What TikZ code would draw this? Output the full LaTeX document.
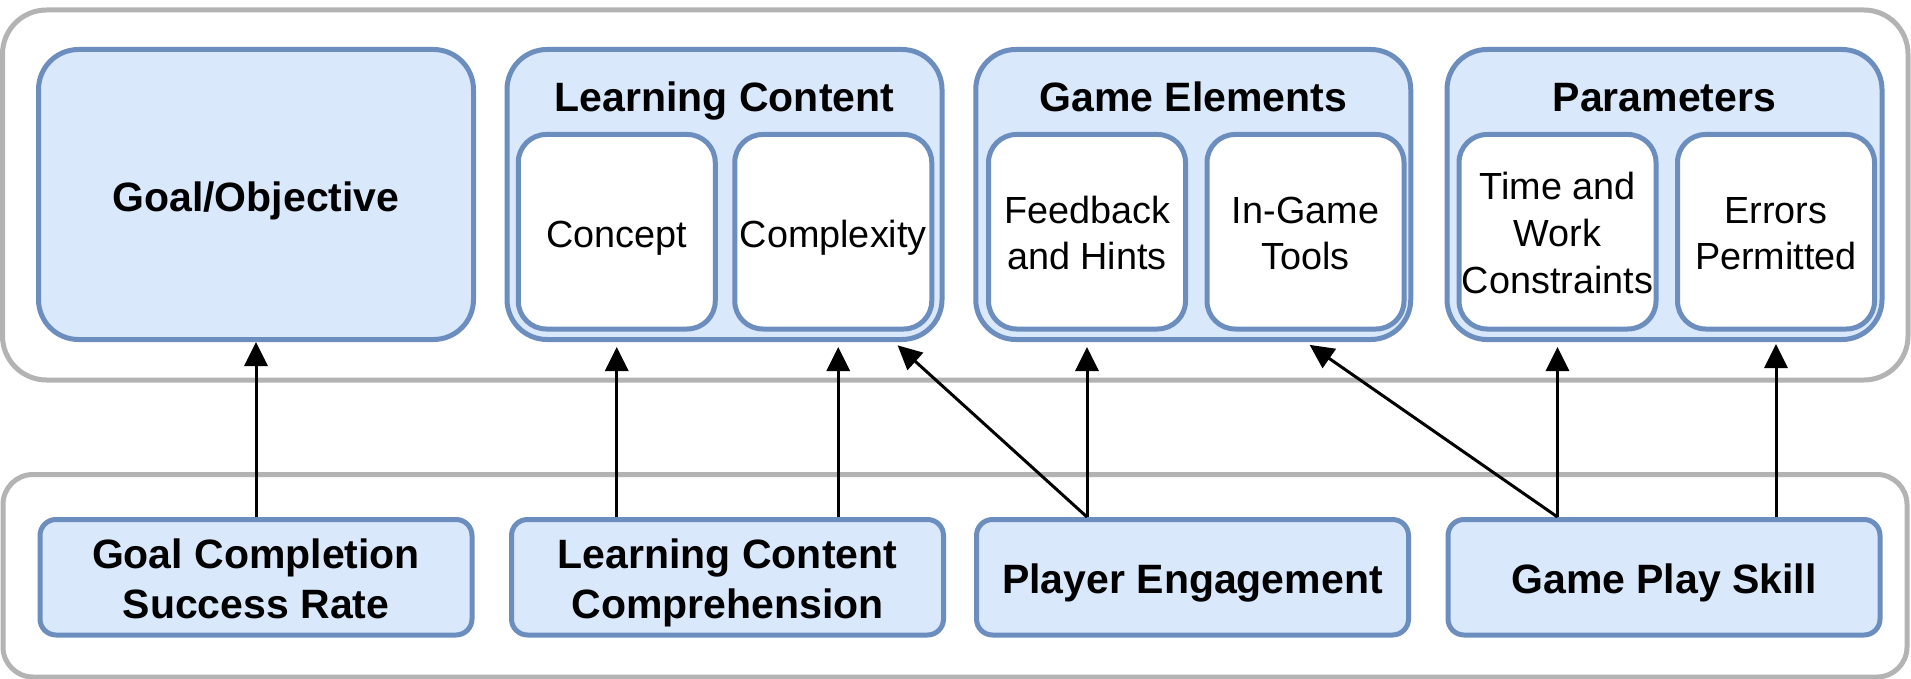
\documentclass[tikz,border=0pt]{standalone}
\usepackage{fontspec}
\setmainfont{Liberation Sans}
\usetikzlibrary{arrows.meta,calc}
\definecolor{boxfill}{HTML}{DAE8FC}
\definecolor{boxline}{HTML}{6C8EBF}
\definecolor{frameline}{HTML}{B3B3B3}
% vertical struts that fix the first-line height and last-line depth of stacked labels
\newcommand\itemtop{\rule{0pt}{19pt}}
\newcommand\itembot{\rule[-4.25pt]{0pt}{4.25pt}}
\newcommand\meastop{\rule{0pt}{21pt}}
\newcommand\measbot{\rule[-5.25pt]{0pt}{5.25pt}}

\begin{document}
\begin{tikzpicture}[x=0.5pt,y=-0.5pt,
  frame/.style={draw=frameline, line width=2.5pt, fill=white, rounded corners=#1, inner sep=0pt},
  group/.style={draw=boxline, fill=boxfill, line width=2.5pt, rounded corners=20pt,
    minimum width=217.5pt, minimum height=145pt, inner sep=0pt},
  item/.style={draw=boxline, fill=white, line width=2.5pt, rounded corners=14pt,
    minimum width=98.5pt, minimum height=97.25pt, inner sep=0.5pt, align=center,
    font=\fontsize{18.9}{23.3}\selectfont},
  itemone/.style={item, text height=21.25pt, text depth=5pt},
  measure/.style={draw=boxline, fill=boxfill, line width=2.5pt, rounded corners=8pt,
    minimum width=216pt, minimum height=57.75pt, inner sep=0pt, align=center,
    font=\bfseries\fontsize{20.5}{25}\selectfont},
  measone/.style={measure, text height=20.75pt, text depth=5pt},
  title/.style={anchor=base, inner sep=0pt, font=\bfseries\fontsize{20.5}{25}\selectfont},
  link/.style={line width=1.5pt, -{Triangle[length=12pt,width=11.5pt]}},
]
\useasboundingbox (0,0) rectangle (1911,679);

% outer frames
\node[frame=22pt, minimum width=952.75pt, minimum height=185pt] (upper) at (955.25,195) {};
\node[frame=15pt, minimum width=952pt, minimum height=101.25pt] (lower) at (955,575.75) {};

% design elements
\node[group, text height=22.5pt, text depth=5pt, font=\bfseries\fontsize{20.5}{25}\selectfont] (go) at (256,194.5) {Goal/Objective};
\node[group] (lc) at (724.5,194.5) {};
\node[group] (ge) at (1193.25,194.5) {};
\node[group] (pa) at (1664.5,194.5) {};

\node[title] (lct) at (724.5,112) {Learning Content};
\node[title] (get) at (1193.25,112) {Game Elements};
\node[title] (pat) at (1664.5,112) {Parameters};

\node[itemone] (concept) at (616.75,231.75) {Concept};
\node[itemone] (complexity) at (833.25,231.75) {Complexity};
\node[item] (fb) at (1087,231.75) {\itemtop Feedback\\and Hints\itembot};
\node[item] (igt) at (1305.5,231.75) {\itemtop In-Game\\Tools\itembot};
\node[item] (tw) at (1557.5,231.75) {\itemtop Time and\\Work\\Constraints\itembot};
\node[item] (ep) at (1776,231.75) {\itemtop Errors\\Permitted\itembot};

% measures
\node[measure] (gc) at (256,577.25) {\meastop Goal Completion\\Success Rate\measbot};
\node[measure] (lcc) at (727.5,577.25) {\meastop Learning Content\\Comprehension\measbot};
\node[measone] (pe) at (1192.5,577.25) {Player Engagement};
\node[measone] (gps) at (1664,577.25) {Game Play Skill};

% links
\draw[link] (gc.north) -- (go.south);
\draw[link, shorten >=2.5pt] (lcc.north -| concept.south) -- (lc.south -| concept.south);
\draw[link, shorten >=2.5pt] ([xshift=2.5pt]lcc.north -| complexity.south) -- ([xshift=2.5pt]lc.south -| complexity.south);
\draw[link, shorten >=2.5pt] (pe.north -| fb.south) -- ($(lc.south)!0.77!(lc.south east)$);
\draw[link, shorten >=2.5pt] (pe.north -| fb.south) -- (ge.south -| fb.south);
\draw[link, shorten >=2.5pt] (gps.north -| tw.south) -- (ge.south -| igt.south);
\draw[link, shorten >=2.5pt] (gps.north -| tw.south) -- (pa.south -| tw.south);
\draw[link, shorten >=1pt] (gps.north -| ep.south) -- (pa.south -| ep.south);
\end{tikzpicture}
\end{document}
